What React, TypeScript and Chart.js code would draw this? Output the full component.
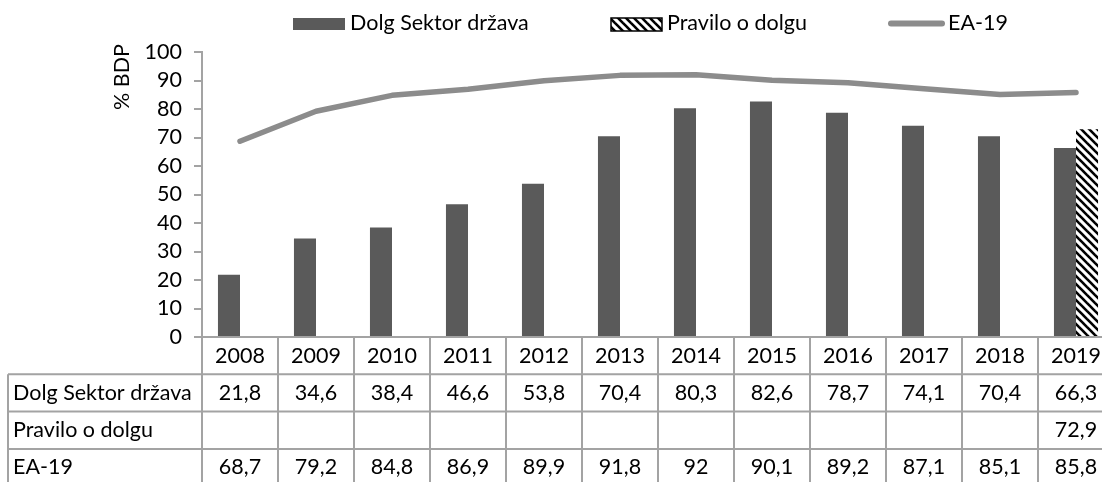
import React, { useEffect, useRef } from 'react';
import { Chart, registerables } from 'chart.js';

Chart.register(...registerables);

const years = ['2008', '2009', '2010', '2011', '2012', '2013', '2014', '2015', '2016', '2017', '2018', '2019'];
const dolgSektor = [21.8, 34.6, 38.4, 46.6, 53.8, 70.4, 80.3, 82.6, 78.7, 74.1, 70.4, 66.3];
const praviloODolgu: (number | null)[] = [null, null, null, null, null, null, null, null, null, null, null, 72.9];
const ea19 = [68.7, 79.2, 84.8, 86.9, 89.9, 91.8, 92, 90.1, 89.2, 87.1, 85.1, 85.8];
const seriesNames = ['Dolg Sektor država', 'Pravilo o dolgu', 'EA-19'];
const yAxisTitle = '% BDP';

const FONT = 'Lato, "Open Sans", sans-serif';
const FS = 21.5;
const BAR_COLOR = '#5a5a5a';
const LINE_COLOR = '#8c8c8c';
const GRID = '#a3a3a3';

function makeHatch(): CanvasPattern | string {
  const c = document.createElement('canvas');
  c.width = 8;
  c.height = 8;
  const g = c.getContext('2d');
  if (!g) return '#000';
  g.fillStyle = '#fff';
  g.fillRect(0, 0, 8, 8);
  g.strokeStyle = '#000';
  g.lineWidth = 2.6;
  for (let k = -16; k <= 16; k += 8) {
    g.beginPath();
    g.moveTo(-2, k - 2);
    g.lineTo(10, k + 10);
    g.stroke();
  }
  return g.createPattern(c, 'repeat') || '#000';
}

const fmt = (v: number | null) => (v == null ? '' : String(v).replace('.', ','));

export default function App() {
  const ref = useRef<HTMLCanvasElement>(null);

  useEffect(() => {
    if (!ref.current) return;
    const hatch = makeHatch();

    const overlay = {
      id: 'overlay',
      afterDraw(chart: any) {
        const ctx = chart.ctx as CanvasRenderingContext2D;
        const area = chart.chartArea;
        const xs = chart.scales.x;
        const n = years.length;
        const cw = (area.right - area.left) / n;
        const tableLeft = 8;
        const rowTop = [area.bottom, area.bottom + 37.3, area.bottom + 74.6, area.bottom + 111.9, area.bottom + 149.2];
        ctx.save();
        ctx.strokeStyle = GRID;
        ctx.lineWidth = 2;
        ctx.beginPath();
        ctx.moveTo(area.left, rowTop[0]);
        ctx.lineTo(area.right + 20, rowTop[0]);
        for (let r = 1; r < rowTop.length; r++) {
          ctx.moveTo(tableLeft, rowTop[r]);
          ctx.lineTo(area.right + 20, rowTop[r]);
        }
        ctx.moveTo(tableLeft, rowTop[1]);
        ctx.lineTo(tableLeft, rowTop[4]);
        for (let i = 0; i <= n; i++) {
          const x = area.left + i * cw;
          ctx.moveTo(x, rowTop[0]);
          ctx.lineTo(x, rowTop[4]);
        }
        ctx.stroke();

        ctx.fillStyle = '#000';
        ctx.font = `${FS}px ${FONT}`;
        ctx.textBaseline = 'middle';
        ctx.textAlign = 'center';
        years.forEach((y, i) => {
          const cx = xs.getPixelForValue(i);
          ctx.fillText(y, cx, (rowTop[0] + rowTop[1]) / 2);
        });
        const rows: (number | null)[][] = [dolgSektor, praviloODolgu, ea19];
        rows.forEach((vals, r) => {
          const cy = (rowTop[r + 1] + rowTop[r + 2]) / 2;
          ctx.textAlign = 'left';
          ctx.fillText(seriesNames[r], 13, cy);
          ctx.textAlign = 'center';
          vals.forEach((v, i) => {
            ctx.fillText(fmt(v), xs.getPixelForValue(i), cy);
          });
        });

        // legend
        ctx.textAlign = 'left';
        ctx.fillStyle = BAR_COLOR;
        ctx.fillRect(293, 18, 52, 12);
        ctx.fillStyle = '#000';
        ctx.fillText(seriesNames[0], 350, 23);
        ctx.fillStyle = hatch as any;
        ctx.fillRect(611, 18, 51, 13);
        ctx.strokeStyle = '#000';
        ctx.lineWidth = 1.5;
        ctx.strokeRect(611, 18, 51, 13);
        ctx.fillStyle = '#000';
        ctx.fillText(seriesNames[1], 667, 23);
        ctx.strokeStyle = LINE_COLOR;
        ctx.lineWidth = 6;
        ctx.lineCap = 'round';
        ctx.beginPath();
        ctx.moveTo(891, 23.5);
        ctx.lineTo(942, 23.5);
        ctx.stroke();
        ctx.fillText(seriesNames[2], 948, 23);

        // y axis title
        ctx.translate(122, 77);
        ctx.rotate(-Math.PI / 2);
        ctx.textAlign = 'center';
        ctx.fillText(yAxisTitle, 0, 0);
        ctx.restore();
      },
    };

    const chart = new Chart(ref.current, {
      type: 'bar',
      data: {
        labels: years,
        datasets: [
          {
            type: 'line',
            label: seriesNames[2],
            data: ea19,
            borderColor: LINE_COLOR,
            backgroundColor: LINE_COLOR,
            borderWidth: 5.5,
            pointRadius: 0,
            borderCapStyle: 'round',
            borderJoinStyle: 'round',
            tension: 0,
            order: 0,
          } as any,
          {
            type: 'bar',
            label: seriesNames[0],
            data: dolgSektor,
            backgroundColor: BAR_COLOR,
            order: 1,
          },
          {
            type: 'bar',
            label: seriesNames[1],
            data: praviloODolgu,
            backgroundColor: hatch as any,
            order: 1,
          },
        ],
      },
      options: {
        responsive: false,
        animation: false,
        devicePixelRatio: 1,
        layout: { padding: { left: 0, right: 0, top: 52, bottom: 0 } },
        datasets: {
          bar: { barPercentage: 1, categoryPercentage: 0.58 },
        } as any,
        plugins: {
          legend: { display: false },
          tooltip: { enabled: false },
          title: { display: false },
        },
        scales: {
          x: {
            grid: { display: false },
            border: { display: false },
            ticks: { display: false },
            afterFit: (s: any) => {
              s.height = 145;
            },
          },
          y: {
            min: 0,
            max: 100,
            ticks: {
              stepSize: 10,
              autoSkip: false,
              color: '#000',
              font: { family: FONT, size: FS },
              padding: 12,
            },
            grid: {
              drawOnChartArea: false,
              drawTicks: true,
              tickLength: 8,
              color: GRID,
              lineWidth: 2,
            },
            border: { display: true, color: GRID, width: 2 },
            afterFit: (s: any) => {
              s.width = 202;
            },
          },
        },
      },
      plugins: [overlay],
    });
    return () => chart.destroy();
  }, []);

  return (
    <div style={{ position: 'fixed', left: 0, top: 0, width: 1102, height: 482, overflow: 'hidden', background: '#fff' }}>
      <canvas ref={ref} width={1114} height={482} style={{ display: 'block', width: 1114, height: 482 }} />
    </div>
  );
}
